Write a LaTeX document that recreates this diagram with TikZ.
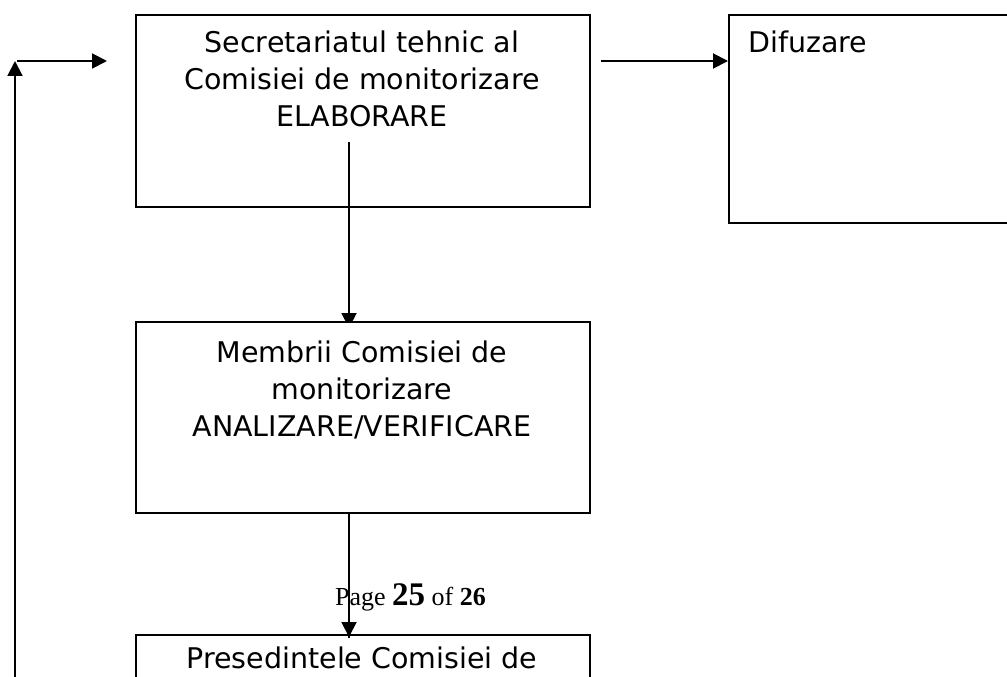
\documentclass[tikz,border=0pt]{standalone}
\usepackage{fontspec}
\setmainfont{DejaVu Sans}
\newfontfamily\timesfont{Liberation Serif}
\usetikzlibrary{arrows.meta}
\begin{document}
\begin{tikzpicture}[x=1pt,y=-1pt,
  box/.style={draw=black, line width=1.9pt, fill=white, rectangle, inner sep=0pt, anchor=north west},
  boxtext/.style={inner sep=0pt, align=center, anchor=base, font=\fontsize{28.5}{37}\selectfont},
  conn/.style={draw=black, line width=1.9pt, -{Triangle[length=15pt,width=15pt]}}]
\useasboundingbox (0,0) rectangle (1007,677);
\clip (0,0) rectangle (1007,677);
% boxes
\node[box, minimum width=454pt, minimum height=192pt] (sec) at (135,14) {};
\node[box, minimum width=300pt, minimum height=208pt] (dif) at (728,14) {};
\node[boxtext] (sectext) at (362,126) {Secretariatul tehnic al\\Comisiei de monitorizare\\ELABORARE};
\node[boxtext, anchor=base west] (diftext) at (748,53) {Difuzare};
% connectors top
\coordinate (loopbot) at (15,690);
\coordinate (loopcorner) at (15,61);
\coordinate (looptop) at (17,61);
\coordinate (loopend) at (107,61);
\coordinate (difstart) at (601,61);
\coordinate (secdown) at (349,142);
\draw[conn] (loopbot) -- (loopcorner);
\draw[conn] (looptop) -- (loopend);
\draw[conn] (difstart) -- (dif.west |- difstart);
\draw[conn] (secdown) -- (349,328);
% box 2
\node[box, minimum width=454pt, minimum height=191pt] (mem) at (135,321) {};
\node[boxtext] (memtext) at (362,436) {Membrii Comisiei de\\monitorizare\\ANALIZARE/VERIFICARE};
% box 3
\draw[conn] (mem.south -| secdown) -- (349,637);
\node[box, minimum width=454pt, minimum height=100pt] (pres) at (135,634) {};
\node[boxtext] (prestext) at (362,668) {Presedintele Comisiei de};
\draw[line width=1.9pt] (349,634) -- (349,638);
% page label
\node[inner sep=0pt, anchor=base west] (page) at (335,605) {\timesfont\fontsize{26}{30}\selectfont Page {\bfseries\fontsize{33}{36}\selectfont 25} of {\bfseries 26}};
\end{tikzpicture}
\end{document}
